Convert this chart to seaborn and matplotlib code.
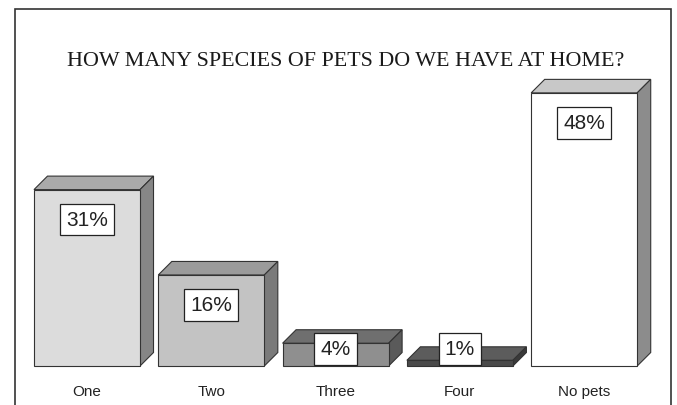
import matplotlib
matplotlib.use("Agg")
import matplotlib.pyplot as plt
import seaborn as sns
import pandas as pd
from matplotlib.patches import Polygon, Rectangle

categories = ["One", "Two", "Three", "Four", "No pets"]
values = [31, 16, 4, 1, 48]
value_labels = ["31%", "16%", "4%", "1%", "48%"]
title = "HOW MANY SPECIES OF PETS DO WE HAVE AT HOME?"

front_colors = ["#dcdcdc", "#c3c3c3", "#8f8f8f", "#4a4a4a", "#ffffff"]
top_colors = ["#aaaaaa", "#9b9b9b", "#6f6f6f", "#5c5c5c", "#c8c8c8"]
side_colors = ["#868686", "#7a7a7a", "#5a5a5a", "#3a3a3a", "#8c8c8c"]

sns.set_theme(style="white")
plt.rcParams['font.family'] = ['Liberation Sans', 'DejaVu Sans']

W, H, DPI = 677, 406, 100
fig = plt.figure(figsize=(W / DPI, H / DPI), dpi=DPI)

# axes placement in pixels
x0, x1 = 24.85, 646.35
ybot, ytop = 367, 25.6
ax = fig.add_axes([x0 / W, (H - ybot) / H, (x1 - x0) / W, (ybot - ytop) / H])

df = pd.DataFrame({"cat": categories, "val": values})
sns.barplot(data=df, x="cat", y="val", hue="cat", palette=front_colors,
            legend=False, width=0.853, edgecolor="#333333", linewidth=0.8,
            saturation=1, ax=ax, zorder=3)
ax.set_xlim(-0.5, 4.5)
ax.set_ylim(0, 60)

px_x = (4.5 + 0.5) / (x1 - x0)
px_y = 60 / (ybot - ytop)
dx = 13.5 * px_x
dy = 13.5 * px_y

for i, p in enumerate(list(ax.patches)):
    p.set_clip_on(False)
    bx, bw, bh = p.get_x(), p.get_width(), p.get_height()
    top = Polygon([(bx, bh), (bx + dx, bh + dy), (bx + bw + dx, bh + dy), (bx + bw, bh)],
                  closed=True, facecolor=top_colors[i], edgecolor="#333333",
                  linewidth=0.8, zorder=2, clip_on=False)
    side = Polygon([(bx + bw, 0), (bx + bw + dx, dy), (bx + bw + dx, bh + dy), (bx + bw, bh)],
                   closed=True, facecolor=side_colors[i], edgecolor="#333333",
                   linewidth=0.8, zorder=2, clip_on=False)
    ax.add_patch(top)
    ax.add_patch(side)
    ly = max(bh - 30 * px_y, 17 * px_y)
    ax.text(bx + bw / 2, ly, value_labels[i], ha="center", va="center",
            fontsize=15, color="#222222", zorder=5,
            bbox=dict(boxstyle="square,pad=0.3", facecolor="white",
                      edgecolor="#222222", linewidth=0.9))

ax.set_xlabel("")
ax.set_ylabel("")
ax.set_yticks([])
ax.tick_params(axis="x", length=0, pad=13, labelsize=11, labelcolor="#222222")
for s in ax.spines.values():
    s.set_visible(False)
ax.patch.set_alpha(0)

# outer frame
frame = Rectangle((14.5 / W, -0.05), (671 - 14.5) / W, (H - 9.5) / H + 0.05,
                  transform=fig.transFigure, fill=False, edgecolor="#333333",
                  linewidth=1.2, zorder=0)
fig.patches.append(frame)

fig.text(345.5 / W, 1 - 62 / H, title, ha="center", va="center",
         fontsize=15.8, family=["Liberation Serif", "DejaVu Serif"], color="#1a1a1a")

fig.savefig("out.png", dpi=DPI, facecolor="white")
